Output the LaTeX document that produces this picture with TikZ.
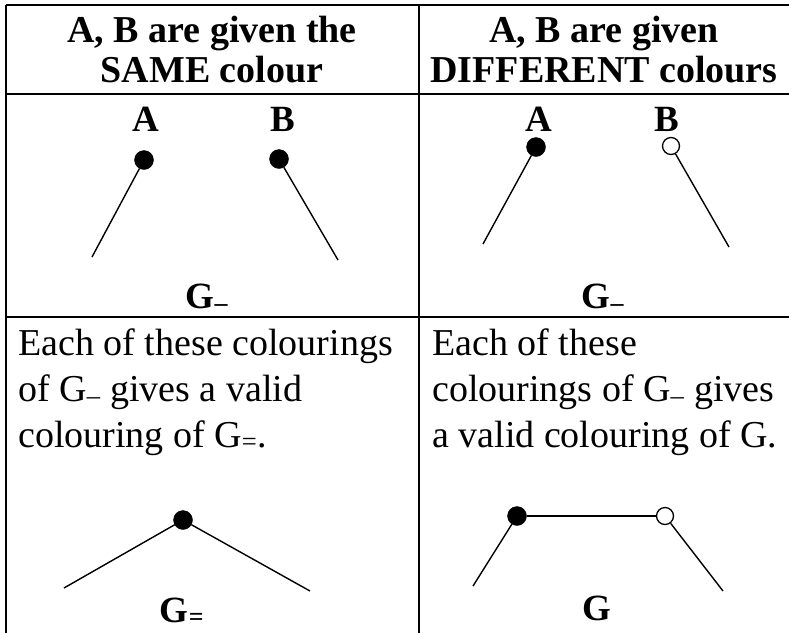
\documentclass[tikz,border=0pt]{standalone}
\usepackage{fontspec}
\setmainfont{Liberation Serif}
\begin{document}
\begin{tikzpicture}[x=1pt,y=-1pt,
  rule/.style={line width=2pt},
  edge/.style={line width=1.4pt},
  vtx/.style={circle,fill=black,draw=black,inner sep=0pt,minimum size=19pt},
  ovtx/.style={circle,fill=white,draw=black,line width=1.3pt,inner sep=0pt,minimum size=17pt},
  head/.style={font=\fontsize{38}{40}\selectfont\bfseries,align=center,inner sep=0pt},
  lbl/.style={font=\fontsize{37}{40}\selectfont\bfseries,inner sep=0pt,anchor=base},
  body/.style={font=\fontsize{38}{46}\selectfont,anchor=base west,inner sep=0pt}]
\useasboundingbox (0,0) rectangle (789,633);
% table rules
\draw[rule] (6,5) -- (789,5);
\draw[rule] (6,5) -- (6,633);
\draw[rule] (419,5) -- (419,633);
\draw[rule] (6,94) -- (789,94);
\draw[rule] (6,317) -- (789,317);
% headers
\node[head] (h1) at (212,50) {A, B are given the\\SAME colour};
\node[head] (h2) at (604,50) {A, B are given\\DIFFERENT colours};
% top left graph
\node[lbl] (la1) at (146,131) {A};
\node[lbl] (lb1) at (283,131) {B};
\node[vtx] (a1) at (144,160) {};
\node[vtx] (b1) at (279,159) {};
\coordinate (a1e) at (92,257);
\coordinate (b1e) at (338,260);
\draw[edge] (a1) -- (a1e);
\draw[edge] (b1) -- (b1e);
\node[lbl] (g1) at (207,308) {G\textsubscript{–}};
% top right graph
\node[lbl] (la2) at (539,131) {A};
\node[lbl] (lb2) at (667,131) {B};
\node[vtx] (a2) at (536,147) {};
\node[ovtx] (b2) at (671,146) {};
\coordinate (a2e) at (483,244);
\coordinate (b2e) at (729,247);
\draw[edge] (a2) -- (a2e);
\draw[edge] (b2) -- (b2e);
\node[lbl] (g2) at (603,308) {G\textsubscript{–}};
% body text
\node[body] (t11) at (18,355) {Each of these colourings};
\node[body] (t12) at (18,401) {of G\textsubscript{–} gives a valid};
\node[body] (t13) at (18,447) {colouring of G\textsubscript{=}.};
\node[body] (t21) at (432,355) {Each of these};
\node[body] (t22) at (432,401) {colourings of G\textsubscript{–} gives};
\node[body] (t23) at (432,447) {a valid colouring of G.};
% bottom left graph
\node[vtx] (v) at (183,520) {};
\coordinate (ve1) at (64,588);
\coordinate (ve2) at (310,591);
\draw[edge] (v) -- (ve1);
\draw[edge] (v) -- (ve2);
\node[lbl] (g3) at (182,622) {G\textsubscript{=}};
% bottom right graph
\node[vtx] (c1) at (517,516) {};
\node[ovtx] (c2) at (665,516) {};
\coordinate (ce1) at (473,586);
\coordinate (ce2) at (723,591);
\draw[edge] (c1) -- (c2);
\draw[edge] (c1) -- (ce1);
\draw[edge] (c2) -- (ce2);
\node[lbl] (g4) at (597,620) {G};
\end{tikzpicture}
\end{document}
